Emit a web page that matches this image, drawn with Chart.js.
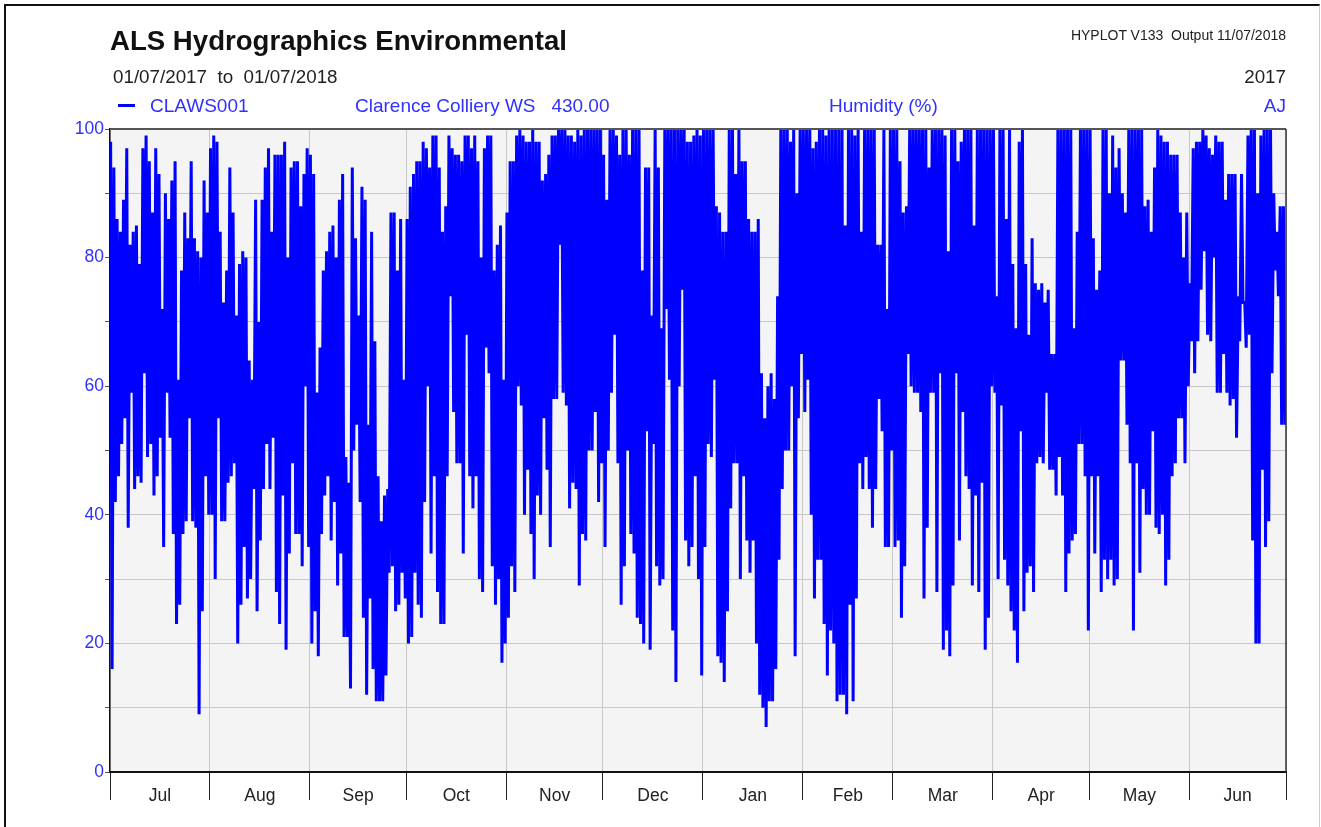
<!DOCTYPE html>
<html>
<head>
<meta charset="utf-8">
<script src="https://cdn.jsdelivr.net/npm/chart.js@4.4.1/dist/chart.umd.min.js"></script>
<style>
  body { margin: 0; background: #fff; font-family: "Liberation Sans", Arial, sans-serif; }
  #wrap { position: relative; width: 1321px; height: 827px; overflow: hidden; }
  #frame { position: absolute; left: 4px; top: 4px; width: 1313px; height: 840px;
           border-left: 2px solid #111; border-top: 2px solid #111; border-right: 1px solid #ccc; }
  .txt { position: absolute; white-space: pre; line-height: 1; }
  .blue { color: #3030ff; }
  canvas { position: absolute; left: 0; top: 0; }
</style>
</head>
<body>
<div id="wrap">
  <canvas id="chart" width="1321" height="827"></canvas>
  <div id="frame"></div>
  <div class="txt" style="left:110px; top:27px; font-size:27.6px; font-weight:bold; color:#111;">ALS Hydrographics Environmental</div>
  <div class="txt" style="right:35px; top:28px; font-size:14px; color:#222;">HYPLOT V133  Output 11/07/2018</div>
  <div class="txt" style="left:113px; top:68px; font-size:18.8px; color:#222;">01/07/2017  to  01/07/2018</div>
  <div class="txt" style="right:35px; top:68px; font-size:18.8px; color:#222;">2017</div>
  <div style="position:absolute; left:118px; top:104px; width:17px; height:3px; background:#0000ff;"></div>
  <div class="txt blue" style="left:150px; top:96px; font-size:19px;">CLAWS001</div>
  <div class="txt blue" style="left:355px; top:96px; font-size:19px;">Clarence Colliery WS   430.00</div>
  <div class="txt blue" style="left:829px; top:96px; font-size:19px;">Humidity (%)</div>
  <div class="txt blue" style="right:35px; top:96px; font-size:19px;">AJ</div>
</div>
<script>
// months shown on the x axis (Jul 2017 - Jun 2018)
const monthNames = ['Jul', 'Aug', 'Sep', 'Oct', 'Nov', 'Dec', 'Jan', 'Feb', 'Mar', 'Apr', 'May', 'Jun'];
const monthDays = [31, 31, 30, 31, 30, 31, 31, 28, 31, 30, 31, 30];

// daily humidity maxima (%), one row per month
const dailyMax = [
  [98,94,86,84,89,97,82,84,85,79,97,99,95,87,97,93,72,90,86,92,95,61,78,87,83,95,83,81,80,92,87],
  [97,99,98,84,73,78,94,87,71,79,81,80,64,61,89,70,89,94,97,84,96,96,96,98,80,94,95,95,88,93,97],
  [96,93,59,66,78,81,84,85,80,89,93,49,45,94,83,71,91,89,54,84,67,46,39,43,44,87,87,78,86,61],
  [86,91,93,95,95,98,97,94,99,99,94,84,88,99,97,96,96,95,99,99,97,99,95,80,97,99,99,78,82,85,61],
  [87,95,95,99,100,99,98,98,100,98,98,92,93,96,99,99,100,100,100,99,99,98,100,99,100,100,100,100,100,100],
  [96,89,100,100,99,96,100,100,96,100,100,100,78,94,94,71,100,94,69,100,100,100,100,100,100,100,98,98,99,100,99],
  [100,100,100,100,88,87,84,84,100,100,93,100,95,95,86,84,84,86,62,55,60,62,58,74,100,100,100,98,100,90,100],
  [100,100,100,97,98,100,100,99,100,100,100,100,100,85,100,100,99,100,84,100,100,100,100,82,82,100,72,100],
  [100,100,95,87,88,100,100,100,100,100,100,94,100,100,100,100,99,81,100,100,95,98,100,100,100,85,100,100,100,100,100],
  [100,74,100,100,86,100,79,69,98,100,79,68,83,76,75,76,73,75,65,65,100,100,100,100,100,69,84,100,100,100],
  [100,83,75,78,100,100,90,99,94,97,90,87,100,100,100,100,100,88,89,84,94,100,99,98,98,96,96,96,87,80,87],
  [76,97,98,98,100,99,97,96,99,98,98,89,93,93,93,74,93,73,99,100,100,90,99,100,100,100,90,84,88,88]
];

// daily humidity minima (%)
const dailyMin = [
  [16,42,46,51,55,38,59,44,46,45,62,49,51,43,46,52,35,59,52,37,23,26,37,39,55,39,38,9,25,46,40],
  [40,30,55,39,39,45,46,48,20,26,35,27,30,44,25,36,44,51,44,52,28,23,43,19,34,48,37,37,32,60,35],
  [20,25,18,37,43,46,36,42,29,34,21,21,13,50,54,42,24,12,27,16,11,11,11,15,31,32,25,26,31,27],
  [20,21,31,26,24,42,60,34,46,28,23,23,46,74,56,48,48,34,68,46,41,46,30,28,66,62,32,26,30,17,20],
  [24,32,28,60,57,40,47,37,30,43,40,55,47,35,58,58,82,59,57,41,45,44,29,37,36,50,50,56,42,48],
  [35,50,59,68,48,26,32,50,37,34,24,23,20,53,19,51,32,29,30,72,61,22,14,60,75,36,32,35,46,30,15],
  [35,51,49,61,18,17,14,25,41,48,48,30,46,36,31,36,20,12,10,7,11,11,16,33,44,50,50,60,18,55,65],
  [56,61,40,27,33,33,23,15,22,20,11,12,12,9,26,11,27,48,44,49,44,38,44,58,53,35,35,50],
  [35,36,24,32,65,60,59,59,56,27,38,59,59,28,62,19,22,18,29,62,36,56,46,44,29,43,28,45,19,24,60],
  [59,30,57,33,29,25,22,17,53,25,31,32,28,48,49,48,59,47,47,43,49,43,28,34,36,37,51,51,46,22],
  [46,34,46,28,33,30,33,29,30,64,64,54,48,22,48,31,44,40,40,53,38,37,40,29,33,46,48,55,55,48,60],
  [67,62,67,75,81,68,67,80,59,59,65,59,57,58,52,67,73,66,68,36,20,20,47,35,39,62,78,74,54,54]
];

const yTicks = [0, 20, 40, 60, 80, 100];

// month start offsets in days from 1 Jul
const monthStart = [0];
for (let i = 0; i < monthDays.length; i++) monthStart.push(monthStart[i] + monthDays[i]);
const totalDays = monthStart[monthStart.length - 1];

// max early in the day, min in the afternoon
const points = [];
for (let m = 0; m < 12; m++) {
  for (let d = 0; d < dailyMax[m].length; d++) {
    const day = monthStart[m] + d;
    points.push({ x: day + 0.2, y: dailyMax[m][d] });
    points.push({ x: day + 0.65, y: dailyMin[m][d] });
  }
}

function isBoundary(v) {
  return monthStart.indexOf(v) !== -1;
}

const plotFrame = {
  id: 'plotFrame',
  beforeDraw(chart) {
    const a = chart.chartArea, c = chart.ctx;
    c.save();
    c.fillStyle = '#f4f4f4';
    c.fillRect(a.left, a.top, a.right - a.left, a.bottom - a.top);
    c.restore();
  },
  afterDatasetsDraw(chart) {
    const a = chart.chartArea, c = chart.ctx;
    c.save();
    c.strokeStyle = '#555';
    c.lineWidth = 2;
    c.beginPath();
    c.moveTo(a.left, a.top);
    c.lineTo(a.right, a.top);
    c.stroke();
    c.strokeStyle = '#333';
    c.lineWidth = 1.5;
    c.beginPath();
    c.moveTo(a.right, a.top);
    c.lineTo(a.right, a.bottom);
    c.stroke();
    c.restore();
  }
};

const config = {
  type: 'line',
  data: {
    datasets: [{
      label: 'CLAWS001',
      data: points,
      borderColor: '#0000ff',
      borderWidth: 3,
      pointRadius: 0,
      tension: 0
    }]
  },
  options: {
    responsive: false,
    animation: false,
    layout: { padding: { left: 10, top: 129, right: 35, bottom: 10 } },
    plugins: { legend: { display: false }, tooltip: { enabled: false } },
    scales: {
      x: {
        type: 'linear',
        min: 0,
        max: totalDays,
        afterFit(scale) { scale.height = 45; },
        afterBuildTicks(scale) {
          const t = [];
          for (let i = 0; i < monthStart.length; i++) {
            t.push({ value: monthStart[i] });
            if (i < 12) t.push({ value: monthStart[i] + monthDays[i] / 2 });
          }
          scale.ticks = t;
        },
        ticks: {
          autoSkip: false,
          maxRotation: 0,
          padding: -14,
          color: '#222',
          font: { family: 'Liberation Sans', size: 17.5 },
          callback(v) {
            for (let i = 0; i < 12; i++) {
              if (v === monthStart[i] + monthDays[i] / 2) return monthNames[i];
            }
            return '';
          }
        },
        grid: {
          tickLength: 28,
          color: (ctx) => (ctx.tick && isBoundary(ctx.tick.value)) ? '#c8c8c8' : 'rgba(0,0,0,0)',
          tickColor: (ctx) => (ctx.tick && isBoundary(ctx.tick.value)) ? '#222' : 'rgba(0,0,0,0)'
        },
        border: { color: '#111', width: 2 }
      },
      y: {
        min: 0,
        max: 100,
        afterFit(scale) { scale.width = 100; },
        ticks: {
          stepSize: 10,
          padding: 1,
          color: '#3030ff',
          font: { family: 'Liberation Sans', size: 17.5 },
          callback: (v) => yTicks.indexOf(v) !== -1 ? String(v) : ''
        },
        grid: { color: '#c8c8c8', tickColor: '#555', tickLength: 5 },
        border: { color: '#111', width: 1.5 }
      }
    }
  },
  plugins: [plotFrame]
};

const myChart = new Chart(document.getElementById('chart'), config);
</script>
</body>
</html>
